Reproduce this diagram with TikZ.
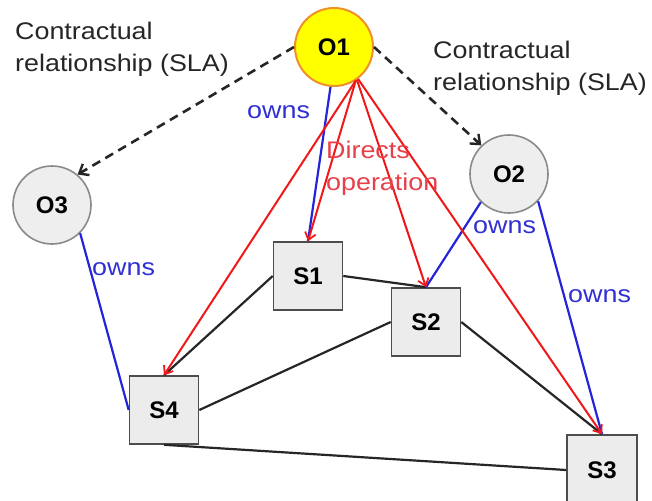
\documentclass[tikz,border=0pt]{standalone}
\usepackage{fontspec}
\setmainfont{Liberation Sans}
\newfontfamily\widesans[FakeStretch=1.12]{Liberation Sans}
\usetikzlibrary{arrows.meta}

\definecolor{linered}{HTML}{F01818}
\definecolor{textred}{HTML}{E8404A}
\definecolor{lineblue}{HTML}{2424D8}
\definecolor{textblue}{HTML}{3030D5}
\definecolor{boxfill}{HTML}{ECECEC}
\definecolor{boxline}{HTML}{4D4D4D}
\definecolor{orgfill}{HTML}{EEEEEE}
\definecolor{orgline}{HTML}{8A8A8A}
\definecolor{ownerfill}{HTML}{FFFF00}
\definecolor{ownerline}{HTML}{F0902A}
\definecolor{labelgray}{HTML}{262626}

\tikzset{
  barb/.tip={Straight Barb[length=7pt,width=11pt,line width=1.8pt]},
  bigbarb/.tip={Straight Barb[length=8pt,width=13pt,line width=2.4pt]},
  service/.style={draw=boxline, fill=boxfill, line width=1.6pt,
    minimum width=69pt, minimum height=68pt, inner sep=0pt,
    font=\fontsize{24}{28}\selectfont\bfseries},
  org/.style={circle, draw=orgline, fill=orgfill, line width=1.6pt,
    minimum size=78pt, inner sep=0pt,
    font=\fontsize{24}{28}\selectfont\bfseries},
  owner/.style={org, draw=ownerline, fill=ownerfill, line width=2pt},
  lbl/.style={inner sep=0pt, font=\widesans\fontsize{24}{32}\selectfont},
  contract/.style={lbl, text=labelgray, align=left},
  ownslbl/.style={lbl, text=textblue},
  sla/.style={draw=black!85, line width=2.6pt, dash pattern=on 9pt off 6pt, -bigbarb},
  owns/.style={draw=lineblue, line width=2.2pt},
  directs/.style={draw=linered, line width=2pt, -barb},
  link/.style={draw=black!85, line width=2.2pt},
}

\begin{document}
\begin{tikzpicture}[x=1pt, y=-1pt]
  \useasboundingbox (0,0) rectangle (652,500);

  % organisations
  \node[owner] (O1) at (334,47) {O1};
  \node[org]   (O2) at (509,174) {O2};
  \node[org]   (O3) at (52,205) {O3};

  % services
  \node[service] (S1) at (308,276) {S1};
  \node[service] (S2) at (426,322) {S2};
  \node[service] (S4) at (164,410) {S4};
  \node[service, minimum width=70pt, minimum height=70pt] (S3) at (602,470) {S3};

  % links between services
  \draw[link] (S1.west) -- (S4.north);
  \draw[link] (S1.east) -- (S2.north);
  \draw[link] (S2.west) -- (S4.east);
  \draw[link] (S2.east) -- (S3.north);
  \draw[link] (S4.south) -- (S3.west);

  % ownership
  \draw[owns] (O1.-95) -- (S1.north);
  \draw[owns] (O2.-135) -- (S2.north);
  \draw[owns] (O2.-43) -- (S3.north);
  \draw[owns] (O3.-45) -- (S4.west);

  % operation directed by O1
  \draw[directs] (O1.-57) -- (S4.north);
  \draw[directs] (O1.-57) -- (S1.north);
  \draw[directs] (O1.-55) -- (S2.north);
  \draw[directs] (O1.-53) -- (S3.north);

  % contractual relationships
  \draw[sla] (O1.west) -- (O3.50);
  \draw[sla] (O1.east) -- (O2.134);

  % labels (base anchor sits on the last line)
  \node[contract, anchor=base west] (slaL) at (15,72) {Contractual\\relationship (SLA)};
  \node[contract, anchor=base west] (slaR) at (433,91) {Contractual\\relationship (SLA)};
  \node[ownslbl, anchor=base west] (own1) at (247,118) {owns};
  \node[ownslbl, anchor=base west] (own2) at (473,233) {owns};
  \node[ownslbl, anchor=base west] (own3) at (568,302) {owns};
  \node[ownslbl, anchor=base west] (own4) at (92,275) {owns};
  \node[lbl, text=textred, align=left, anchor=base west] (dir) at (326,190) {Directs\\operation};
\end{tikzpicture}
\end{document}
